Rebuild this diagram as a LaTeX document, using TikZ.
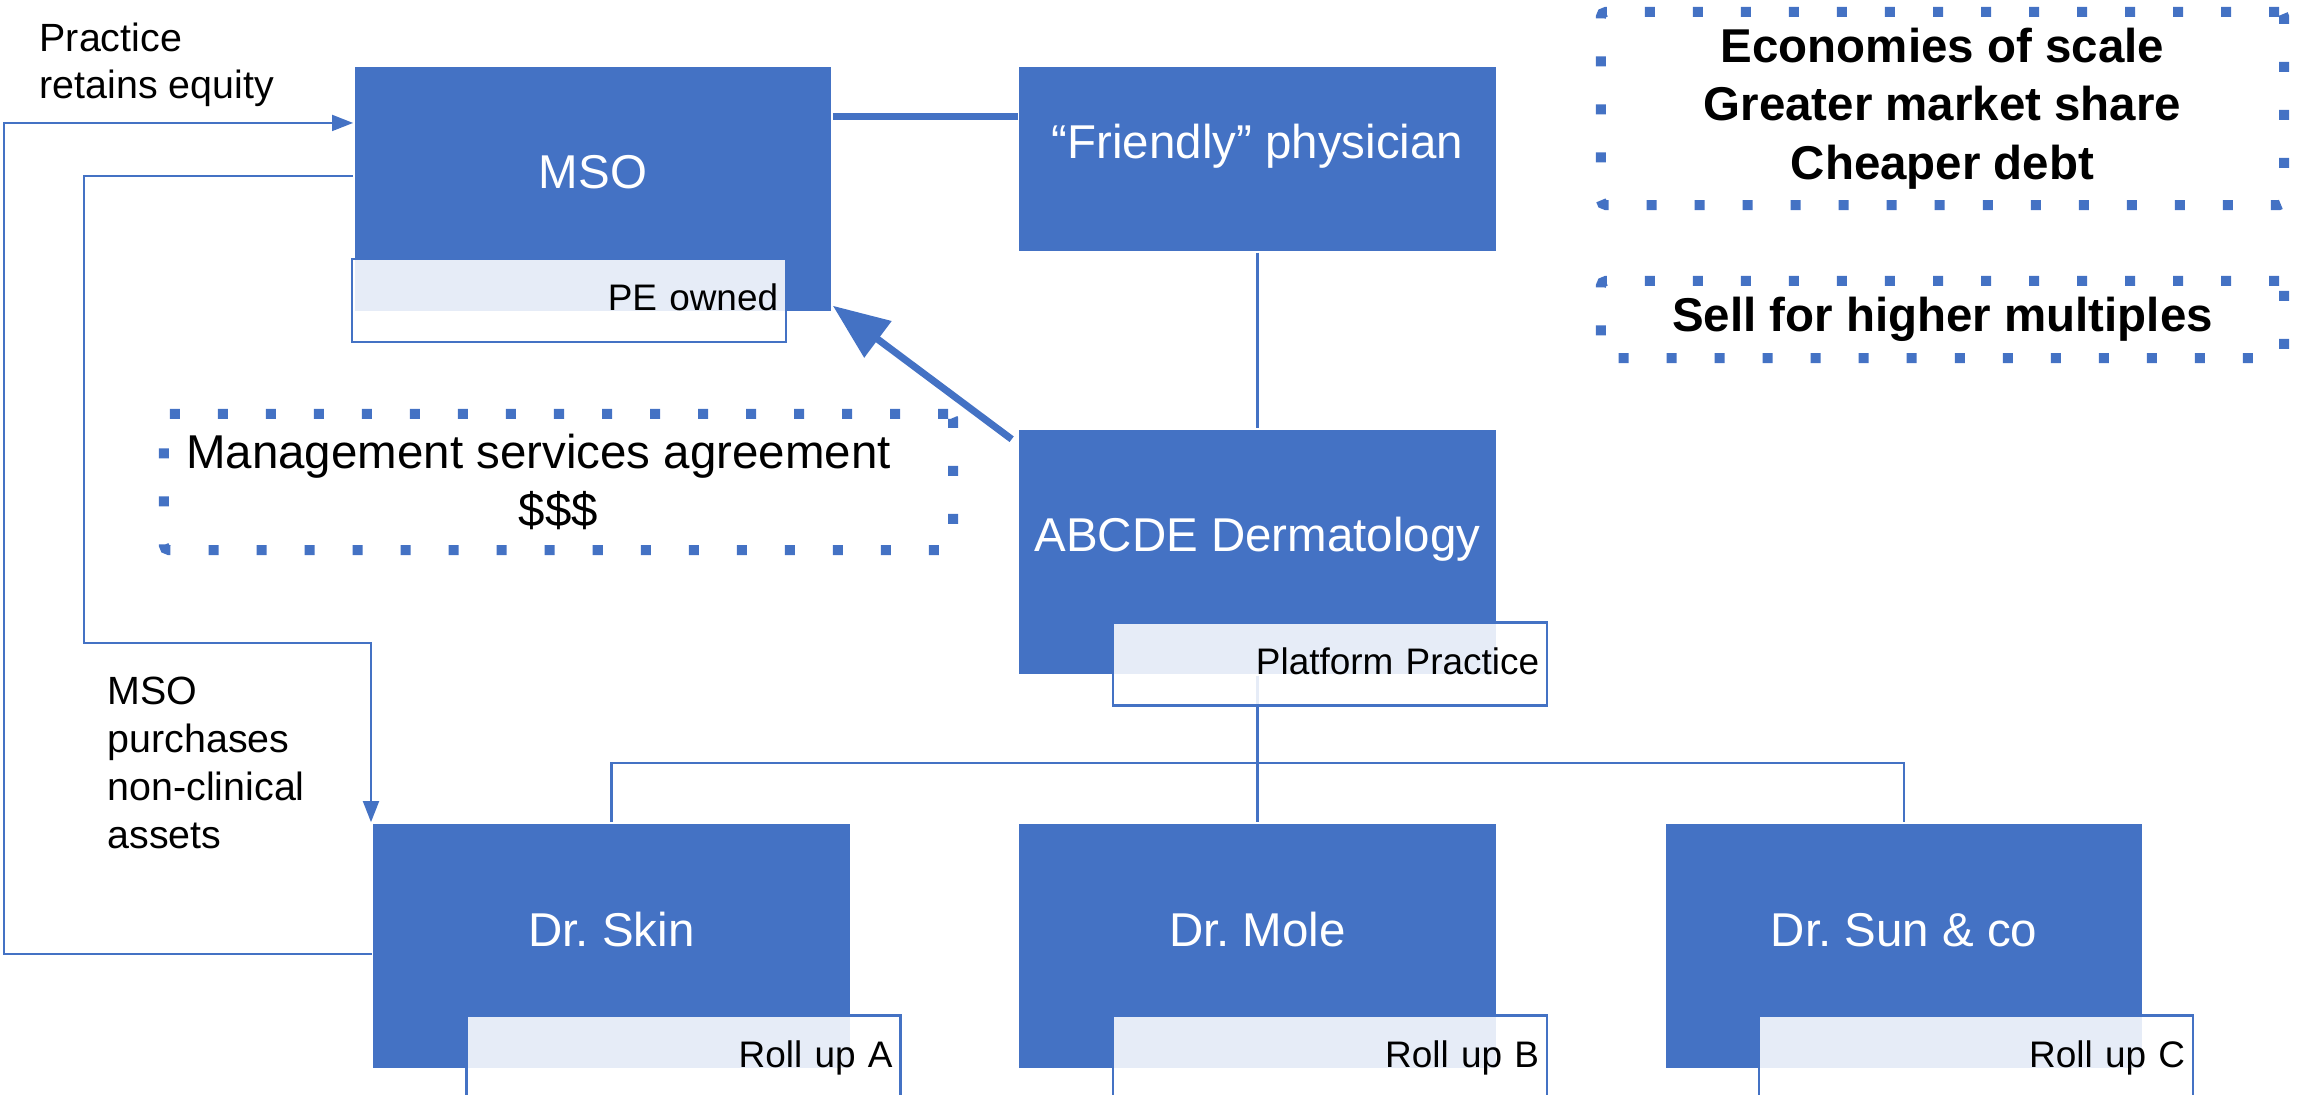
\documentclass[tikz,border=0pt]{standalone}
\usepackage{fontspec}
\setmainfont{Liberation Sans}
\usetikzlibrary{arrows.meta,calc}
\definecolor{sblue}{HTML}{4472C4}
\frenchspacing
\begin{document}
\frenchspacing
\begin{tikzpicture}[x=0.01cm,y=-0.01cm,
 mainbox/.style={fill=sblue, draw=white, line width=0.4pt, text=white, font=\frenchspacing\fontsize{13.5}{16}\selectfont, minimum width=4.78cm, minimum height=2.46cm, inner sep=0pt, text height=0.3cm, text depth=0.3cm},
 tagbox/.style={draw=sblue, line width=0.7pt, fill=white, fill opacity=0.87, text opacity=1, minimum height=0.83cm, inner xsep=0.08cm, inner ysep=0pt, text width=4.18cm, align=right, text height=0.27cm, text depth=0.07cm, font=\frenchspacing\fontsize{10.5}{12}\selectfont},
 conn/.style={draw=sblue, line width=0.7pt},
 tip/.style={-{Triangle[length=6pt,width=4.5pt]}},
 dotbox/.style={draw=sblue, line width=0.1cm, dash pattern=on 0.1cm off 0.38cm, rounded corners=0.05cm, inner sep=0pt, align=center},
 note/.style={inner sep=0pt, align=left, anchor=north west, font=\fontsize{11.2}{13.5}\selectfont}
]
\useasboundingbox (0,0) rectangle (2297,1095);
\clip (0,0) rectangle (2297,1095);

% main boxes
\node[mainbox] (mso) at (593,189) {MSO};
\node[mainbox, minimum height=1.86cm] (friend) at (1257.5,159) {“Friendly” physician};
\node[mainbox] (abcde) at (1257.5,552) {ABCDE Dermatology};
\node[mainbox] (skin) at (611.5,946) {Dr. Skin};
\node[mainbox] (mole) at (1257.5,946) {Dr. Mole};
\node[mainbox] (sun) at (1904,946) {Dr. Sun \& co};

% helper coordinates
\coordinate (rail1) at (4,540);
\coordinate (rail2) at (84,643);
\coordinate (rail3) at (371,643);
\coordinate (bus) at (1257.5,763);

% connectors
\draw[conn, tip] ([yshift=-0.08cm]skin.west) -| (rail1) |- ([yshift=0.66cm]mso.west);
\draw[conn, tip] ([yshift=0.13cm]mso.west) -| (rail2) -- (rail3) -- (rail3 |- skin.north);
\draw[draw=sblue, line width=2pt] ([yshift=0.72cm]mso.east) coordinate (t1) -- (t1 -| friend.west);
\draw[draw=sblue, line width=2pt, -{Triangle[length=16pt,width=12.5pt]}] ([xshift=-0.06cm,yshift=-0.11cm]abcde.north west) -- ([yshift=0.07cm]mso.south east);
\draw[conn] (friend.south) -- (abcde.north);
\draw[conn] (abcde.south) -- (mole.north);
\draw[conn] (skin.north) |- (bus) -| (sun.north);

% tag boxes
\node[tagbox] (pe) at (569,300.5) {PE owned};
\node[tagbox] (plat) at (1330,664) {Platform Practice};
\node[tagbox] (rua) at (683.5,1057) {Roll up A};
\node[tagbox] (rub) at (1330,1057) {Roll up B};
\node[tagbox] (ruc) at (1976,1057) {Roll up C};

% dotted boxes
\node[dotbox, minimum width=7.89cm, minimum height=1.36cm, font=\fontsize{13.5}{16.5}\selectfont] (msa) at (558.5,482) {Management services agreement\hspace*{0.4cm}\\\$\$\$};
\node[dotbox, minimum width=6.83cm, minimum height=1.93cm, font=\fontsize{13.5}{16.6}\selectfont\bfseries] (econ) at (1942.5,108.5) {Economies of scale\\Greater market share\\Cheaper debt};
\node[dotbox, minimum width=6.83cm, minimum height=0.77cm, font=\fontsize{13.5}{16.4}\selectfont\bfseries] (sell) at (1942.5,319.5) {Sell for higher multiples};

% side notes
\node[note, font=\fontsize{11.2}{13.4}\selectfont] (pre) at (39,22) {Practice\\retains equity};
\node[note, font=\fontsize{11.2}{13.65}\selectfont] (pur) at (107,676) {MSO\\purchases\\non-clinical\\assets};
\end{tikzpicture}
\end{document}
